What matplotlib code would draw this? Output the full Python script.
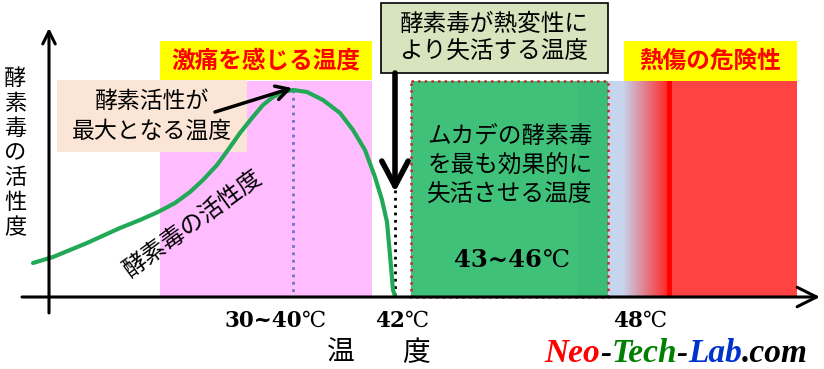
import numpy as np
import matplotlib.pyplot as plt
from matplotlib.patches import Rectangle
from matplotlib.colors import LinearSegmentedColormap
from matplotlib.offsetbox import TextArea, HPacker, AnnotationBbox

plt.rcParams['font.family'] = ['Noto Sans CJK JP', 'DejaVu Sans']

# 模式図なので座標は元の図のピクセル位置 (x: 左->右, y: 上->下)
curve_x = [33, 53, 87, 120, 140, 158, 175, 190, 203, 217, 228, 240, 252, 263, 273,
           283, 293, 307, 323, 340, 353, 365, 375, 382, 387, 390, 393, 395]
curve_y = [263, 257, 243, 228, 220, 212, 203, 192, 180, 165, 150, 133, 118, 105, 97,
           92, 90, 92, 100, 113, 130, 150, 177, 200, 222, 255, 290, 296]

base_y = 297      # 温度の軸
axis_x = 49       # 活性度の軸
peak_x = 293      # 活性が最大
inact_x = 395     # 42℃で失活
band_top = 81

# 帯 (左, 右, 色)
bands = [
    (160, 372, '#FFBDFF'),   # 激痛
    (411, 608, '#3FC17A'),   # 最も効果的
    (577, 608, '#3BBC77'),
    (608, 623, '#C6D4EE'),
    (672, 797, '#FF4242'),   # 熱傷
]
grad_x = (623, 672)

# ラベルの箱 (文字, 左, 右, 上, 下, 背景, 文字色, 太字)
boxes = [
    ('激痛を感じる温度', 160, 372, 41, 80, '#FFFF00', '#FF0000', 'bold'),
    ('熱傷の危険性', 624, 797, 41, 81, '#FFFF00', '#FF0000', 'bold'),
]

# 複数行の説明 (行, 中心x, 各行の中心y)
notes = [
    (['酵素活性が', '最大となる温度'], 152, [101, 131], 16.5),
    (['酵素毒が熱変性に', 'より失活する温度'], 494, [24, 52], 17),
    (['ムカデの酵素毒', 'を最も効果的に', '失活させる温度'], 510, [137, 166, 195], 17),
]

tick_x = [275, 402, 640]
tick_num = ['30~40', '42', '48']

fig = plt.figure(figsize=(8.24, 3.69), dpi=100)
ax = fig.add_axes([0, 0, 1, 1])

for x0, x1, c in bands:
    ax.add_patch(Rectangle((x0, band_top), x1 - x0, base_y - band_top, color=c, lw=0, zorder=1))

cmap = LinearSegmentedColormap.from_list('g', [(0, '#C6D4EE'), (0.9, '#FF2A2A'), (0.9, '#FF0000'), (1, '#FF0000')])
ax.imshow(np.linspace(0, 1, 256)[None, :], cmap=cmap, aspect='auto',
          extent=[grad_x[0], grad_x[1], base_y, band_top], zorder=1)

# 最も効果的な温度の赤い点線枠
ax.add_patch(Rectangle((411, band_top), 608 - 411, base_y - band_top, fill=False,
                       ec='#C8282D', lw=1.8, ls=':', zorder=3))

for s, x0, x1, y0, y1, fc, tc, w in boxes:
    ax.add_patch(Rectangle((x0, y0), x1 - x0, y1 - y0, color=fc, lw=0, zorder=2))
    ax.text((x0 + x1) / 2, (y0 + y1) / 2, s, ha='center', va='center', color=tc,
            fontsize=17, fontweight=w, zorder=5)

# 説明の箱
ax.add_patch(Rectangle((57, 80), 247 - 57, 152 - 80, color='#FBE5D6', lw=0, zorder=2))
ax.add_patch(Rectangle((381, 3), 608 - 381, 73 - 3, fc='#D7E4BD', ec='black', lw=1.2, zorder=2))
for lines, x, ys, size in notes:
    for s, y in zip(lines, ys):
        ax.text(x, y, s, ha='center', va='center', fontsize=size, zorder=5)

ax.annotate('', xy=(292, 88), xytext=(215, 112),
            arrowprops=dict(arrowstyle='->,head_length=0.9,head_width=0.5', lw=2.5,
                            color='black', shrinkA=0, shrinkB=0, mutation_scale=10), zorder=6)

# 縦の点線
ax.plot([peak_x, peak_x], [90, base_y], color='#6F72C8', lw=2, ls=':', zorder=3)
ax.plot([inact_x, inact_x], [190, base_y], color='black', lw=2, ls=':', zorder=3)
ax.annotate('', xy=(inact_x, 192), xytext=(inact_x, 73),
            arrowprops=dict(arrowstyle='->,head_length=1.8,head_width=0.95', lw=4,
                            color='black', shrinkA=0, shrinkB=0, mutation_scale=10), zorder=6)

# 活性度の曲線
ax.plot(curve_x, curve_y, color='#22A957', lw=3, solid_capstyle='round',
        solid_joinstyle='round', zorder=4)
ax.text(194, 224, '酵素毒の活性度', rotation=36, ha='center', va='center', fontsize=17, zorder=5)

# 軸
ax.annotate('', xy=(820, base_y), xytext=(22, base_y),
            arrowprops=dict(arrowstyle='->,head_length=1.4,head_width=0.7', lw=2.2,
                            color='black', shrinkA=0, shrinkB=0, mutation_scale=10), zorder=6)
ax.annotate('', xy=(axis_x, 28), xytext=(axis_x, 313),
            arrowprops=dict(arrowstyle='->,head_length=0.9,head_width=0.45', lw=2.2,
                            color='black', shrinkA=0, shrinkB=0, mutation_scale=10), zorder=6)

ax.text(15, 153, '\n'.join('酵素毒の活性度'), ha='center', va='center', fontsize=16,
        linespacing=1.1)

# 温度の目盛り
num_font = ['DejaVu Serif', 'Noto Sans CJK JP']
deg_font = ['DejaVu Serif', 'DejaVu Sans', 'Noto Sans CJK JP']


def deg_label(x, y, num, size):
    parts = [TextArea(num, textprops=dict(family=num_font, fontweight='bold', fontsize=size)),
             TextArea('℃', textprops=dict(family=deg_font, fontsize=size))]
    pack = HPacker(children=parts, align='baseline', pad=0, sep=0)
    ax.add_artist(AnnotationBbox(pack, (x, y), frameon=False, box_alignment=(0.5, 0.5),
                                 pad=0, zorder=7))


for x, n in zip(tick_x, tick_num):
    deg_label(x, 321, n, 15.5)
deg_label(512, 260, '43~46', 17.5)

ax.text(341, 353, '温', ha='center', va='center', fontsize=20)
ax.text(416, 353, '度', ha='center', va='center', fontsize=20)

# サイト名
site = [('Neo', '#FF0000'), ('-', 'black'), ('Tech', '#008000'), ('-', 'black'),
        ('Lab', '#0033CC'), ('.com', 'black')]
parts = [TextArea(s, textprops=dict(family='Liberation Serif', fontweight='bold',
                                    fontstyle='italic', fontsize=24, color=c)) for s, c in site]
ax.add_artist(AnnotationBbox(HPacker(children=parts, align='baseline', pad=0, sep=0),
                             (676, 354), frameon=False, box_alignment=(0.5, 0.5), pad=0))

ax.set_xlim(0, 824)
ax.set_ylim(369, 0)
ax.axis('off')
fig.savefig('out.png', dpi=100)
